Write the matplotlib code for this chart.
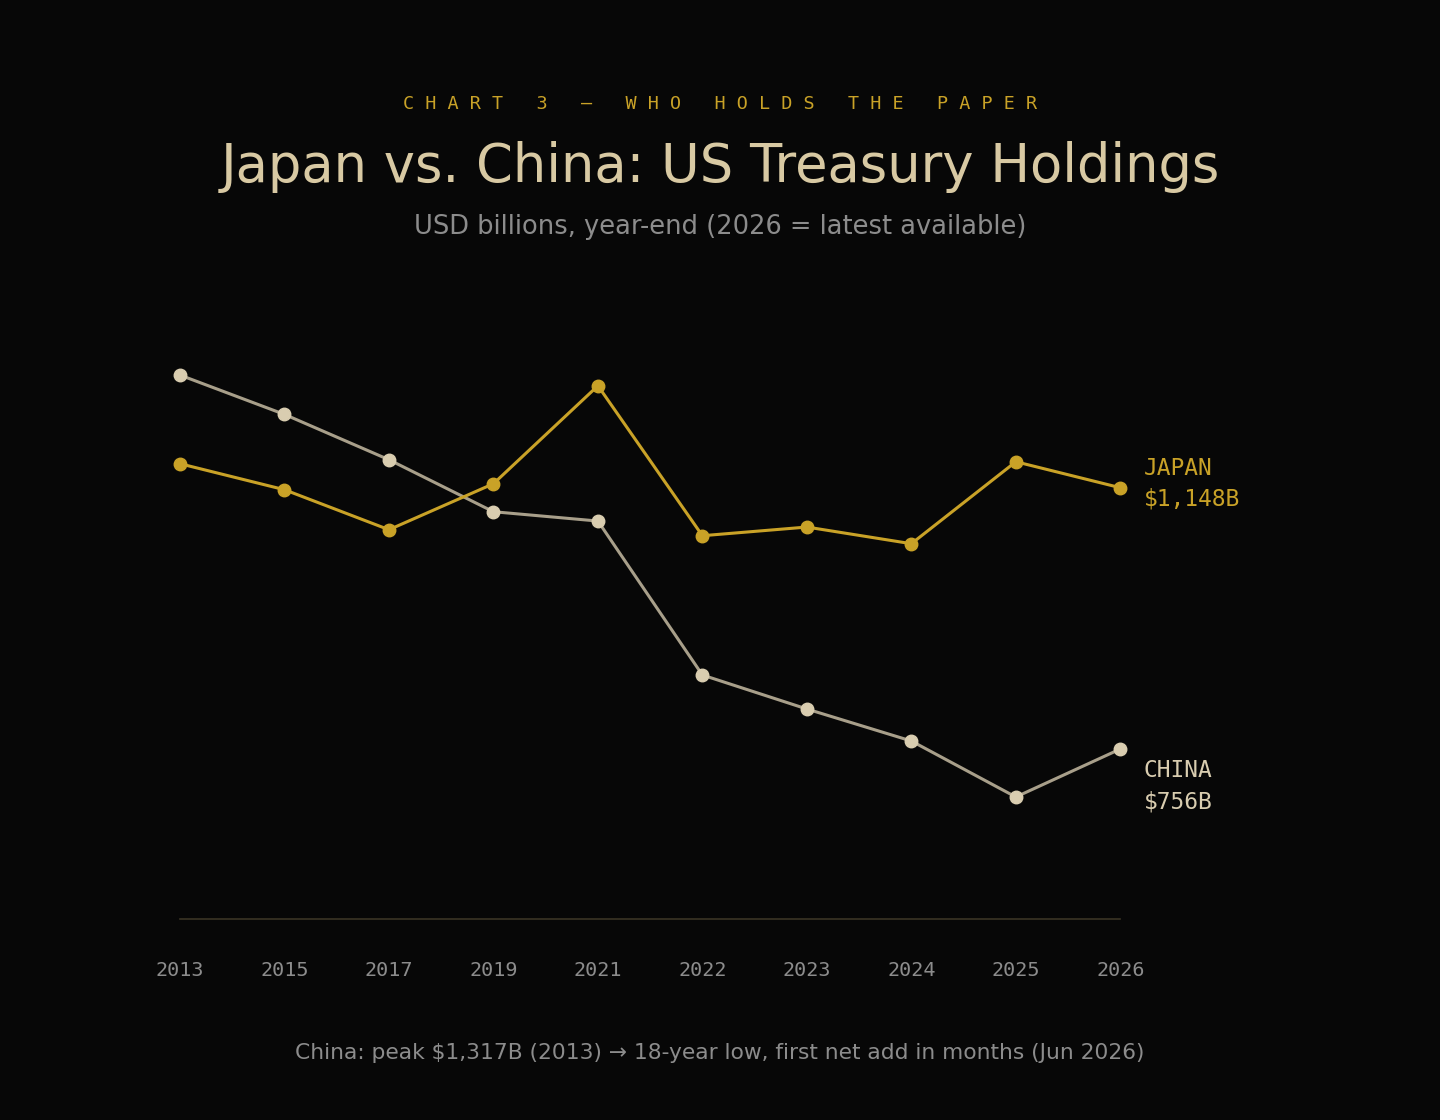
import matplotlib
matplotlib.use("Agg")
import matplotlib.pyplot as plt

years = ["2013", "2015", "2017", "2019", "2021", "2022", "2023", "2024", "2025", "2026"]
japan = [1184, 1145, 1085, 1154, 1301, 1076, 1089, 1064, 1187, 1148]
china = [1317, 1258, 1190, 1112, 1098, 867, 816, 768, 684, 756]

bg = "#070707"
gold = "#c9a227"
china_line = "#a89f8a"
china_dot = "#d9cdb0"

fig = plt.figure(figsize=(14.4, 11.2), dpi=100, facecolor=bg)
ax = fig.add_axes([0.125, 0.1795, 0.653, 0.535], facecolor=bg)

x = list(range(len(years)))
ax.plot(x, china, color=china_line, lw=2.2, marker="o", ms=9,
        mfc=china_dot, mec=china_dot, zorder=3, clip_on=False)
ax.plot(x, japan, color=gold, lw=2.2, marker="o", ms=9,
        mfc=gold, mec=gold, zorder=4, clip_on=False)

ax.set_xlim(0, len(years) - 1)
ax.set_ylim(501, 1400)
for s in ["top", "right", "left"]:
    ax.spines[s].set_visible(False)
ax.spines["bottom"].set_color("#3a3424")
ax.spines["bottom"].set_linewidth(1.2)
ax.set_yticks([])
ax.set_xticks(x)
ax.set_xticklabels(years, family="DejaVu Sans Mono", fontsize=14.5, color="#8c8c8c")
ax.tick_params(axis="x", length=0, pad=30)

ax.annotate(f"JAPAN\n${japan[-1]:,}B", (x[-1], japan[-1]), xytext=(17, 3),
            textcoords="offset points", va="center", ha="left",
            family="DejaVu Sans Mono", fontsize=16.5, color=gold, linespacing=1.45)
ax.annotate(f"CHINA\n${china[-1]:,}B", (x[-1], china[-1]), xytext=(17, -27),
            textcoords="offset points", va="center", ha="left",
            family="DejaVu Sans Mono", fontsize=16.5, color=china_dot, linespacing=1.45)

fig.text(0.5, 0.907, " ".join("CHART 3 — WHO HOLDS THE PAPER"),
         ha="center", va="center", family="DejaVu Sans Mono", fontsize=13.3, color=gold)
fig.text(0.5, 0.851, "Japan vs. China: US Treasury Holdings", ha="center", va="center",
         fontsize=38, color="#d8c9a3")
fig.text(0.5, 0.797, "USD billions, year-end (2026 = latest available)", ha="center",
         va="center", fontsize=18.5, color="#8c8c8c")
fig.text(0.5, 0.06, "China: peak $1,317B (2013) → 18-year low, first net add in months (Jun 2026)",
         ha="center", va="center", fontsize=15.7, color="#8c8c8c")

fig.savefig("out.png", dpi=100, facecolor=bg)
